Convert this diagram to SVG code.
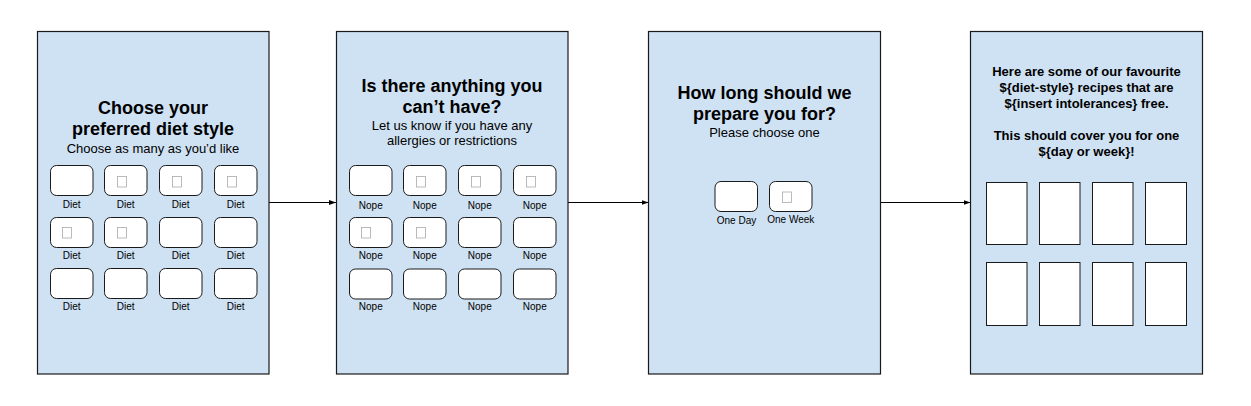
<svg xmlns="http://www.w3.org/2000/svg" width="1251" height="406" viewBox="0 0 1251 406">
<style>
.panel{fill:#cfe2f3;stroke:#1a1a1a;stroke-width:1.2}
.box{fill:#fff;stroke:#1a1a1a;stroke-width:1}
.card{fill:#fff;stroke:#1a1a1a;stroke-width:1}
.tofu{fill:#fff;stroke:#aaaaaa;stroke-width:0.8}
text{font-family:"Liberation Sans",Arial,sans-serif;fill:#000;text-anchor:middle}
.t{font-size:18px;font-weight:bold}
.s{font-size:13px}
.b{font-size:13px;font-weight:bold}
.l{font-size:10px}
.conn{stroke:#000;stroke-width:1;fill:none}
</style>
<defs>
<marker id="ah" markerWidth="8" markerHeight="6" refX="7" refY="3" orient="auto" markerUnits="userSpaceOnUse">
<path d="M0,0.5 L7,3 L0,5.5 Z" fill="#000"/>
</marker>
<rect id="cb" class="box" width="42.5" height="30" rx="6"/>
<rect id="tf" class="tofu" width="9" height="10.5"/>
</defs>
<g id="connectors">
<line class="conn" x1="269" y1="202.5" x2="336" y2="202.5" marker-end="url(#ah)"/>
<line class="conn" x1="568" y1="202.5" x2="648.5" y2="202.5" marker-end="url(#ah)"/>
<line class="conn" x1="880.5" y1="202.5" x2="970.5" y2="202.5" marker-end="url(#ah)"/>
</g>
<g id="panel1">
<rect class="panel" x="37.5" y="31.5" width="231.5" height="342.5"/>
<text class="t" x="153" y="114">Choose your</text>
<text class="t" x="153" y="134.5">preferred diet style</text>
<text class="s" x="153" y="152.5">Choose as many as you’d like</text>
<use href="#cb" x="50.5" y="165.5"/><use href="#cb" x="104.5" y="165.5"/><use href="#cb" x="159.5" y="165.5"/><use href="#cb" x="214.5" y="165.5"/>
<use href="#tf" x="117.5" y="176.5"/><use href="#tf" x="172.5" y="176.5"/><use href="#tf" x="227.5" y="176.5"/>
<text class="l" x="71.75" y="207.5">Diet</text><text class="l" x="125.75" y="207.5">Diet</text><text class="l" x="180.75" y="207.5">Diet</text><text class="l" x="235.75" y="207.5">Diet</text>
<use href="#cb" x="50.5" y="217.5"/><use href="#cb" x="104.5" y="217.5"/><use href="#cb" x="159.5" y="217.5"/><use href="#cb" x="214.5" y="217.5"/>
<use href="#tf" x="62.5" y="227.5"/><use href="#tf" x="117.5" y="227.5"/>
<text class="l" x="71.75" y="258.5">Diet</text><text class="l" x="125.75" y="258.5">Diet</text><text class="l" x="180.75" y="258.5">Diet</text><text class="l" x="235.75" y="258.5">Diet</text>
<use href="#cb" x="50.5" y="268.5"/><use href="#cb" x="104.5" y="268.5"/><use href="#cb" x="159.5" y="268.5"/><use href="#cb" x="214.5" y="268.5"/>
<text class="l" x="71.75" y="309.5">Diet</text><text class="l" x="125.75" y="309.5">Diet</text><text class="l" x="180.75" y="309.5">Diet</text><text class="l" x="235.75" y="309.5">Diet</text>
</g>
<g id="panel2">
<rect class="panel" x="336.5" y="31.5" width="231.5" height="342.5"/>
<text class="t" x="452" y="92">Is there anything you</text>
<text class="t" x="452" y="113">can’t have?</text>
<text class="s" x="452" y="129.5">Let us know if you have any</text>
<text class="s" x="452" y="145">allergies or restrictions</text>
<use href="#cb" x="349.5" y="165.5"/><use href="#cb" x="403.5" y="165.5"/><use href="#cb" x="458.5" y="165.5"/><use href="#cb" x="513.5" y="165.5"/>
<use href="#tf" x="416.5" y="176.5"/><use href="#tf" x="471.5" y="176.5"/><use href="#tf" x="526.5" y="176.5"/>
<text class="l" x="370.75" y="208.5">Nope</text><text class="l" x="424.75" y="208.5">Nope</text><text class="l" x="479.75" y="208.5">Nope</text><text class="l" x="534.75" y="208.5">Nope</text>
<use href="#cb" x="349.5" y="217.5"/><use href="#cb" x="403.5" y="217.5"/><use href="#cb" x="458.5" y="217.5"/><use href="#cb" x="513.5" y="217.5"/>
<use href="#tf" x="361.5" y="227.5"/><use href="#tf" x="416.5" y="227.5"/>
<text class="l" x="370.75" y="259">Nope</text><text class="l" x="424.75" y="259">Nope</text><text class="l" x="479.75" y="259">Nope</text><text class="l" x="534.75" y="259">Nope</text>
<use href="#cb" x="349.5" y="269"/><use href="#cb" x="403.5" y="269"/><use href="#cb" x="458.5" y="269"/><use href="#cb" x="513.5" y="269"/>
<text class="l" x="370.75" y="310">Nope</text><text class="l" x="424.75" y="310">Nope</text><text class="l" x="479.75" y="310">Nope</text><text class="l" x="534.75" y="310">Nope</text>
</g>
<g id="panel3">
<rect class="panel" x="648.5" y="31.5" width="232" height="342.5"/>
<text class="t" x="764.5" y="99">How long should we</text>
<text class="t" x="764.5" y="120">prepare you for?</text>
<text class="s" x="764.5" y="136.5">Please choose one</text>
<use href="#cb" x="715" y="181.5"/><use href="#cb" x="769.5" y="181.5"/>
<use href="#tf" x="782.5" y="192"/>
<text class="l" x="736.5" y="224">One Day</text>
<text class="l" x="790.75" y="222.5">One Week</text>
</g>
<g id="panel4">
<rect class="panel" x="970.5" y="31.5" width="232" height="342.5"/>
<text class="b" x="1086.5" y="76">Here are some of our favourite</text>
<text class="b" x="1086.5" y="92">${diet-style} recipes that are</text>
<text class="b" x="1086.5" y="107.5">${insert intolerances} free.</text>
<text class="b" x="1086.5" y="140">This should cover you for one</text>
<text class="b" x="1086.5" y="155.5">${day or week}!</text>
<rect class="card" x="986.5" y="182.5" width="40.5" height="62"/>
<rect class="card" x="1039.5" y="182.5" width="40.5" height="62"/>
<rect class="card" x="1092.5" y="182.5" width="40.5" height="62"/>
<rect class="card" x="1145.5" y="182.5" width="41" height="62"/>
<rect class="card" x="986.5" y="262.5" width="40.5" height="63"/>
<rect class="card" x="1039.5" y="262.5" width="40.5" height="63"/>
<rect class="card" x="1092.5" y="262.5" width="40.5" height="63"/>
<rect class="card" x="1145.5" y="262.5" width="41" height="63"/>
</g>
</svg>
